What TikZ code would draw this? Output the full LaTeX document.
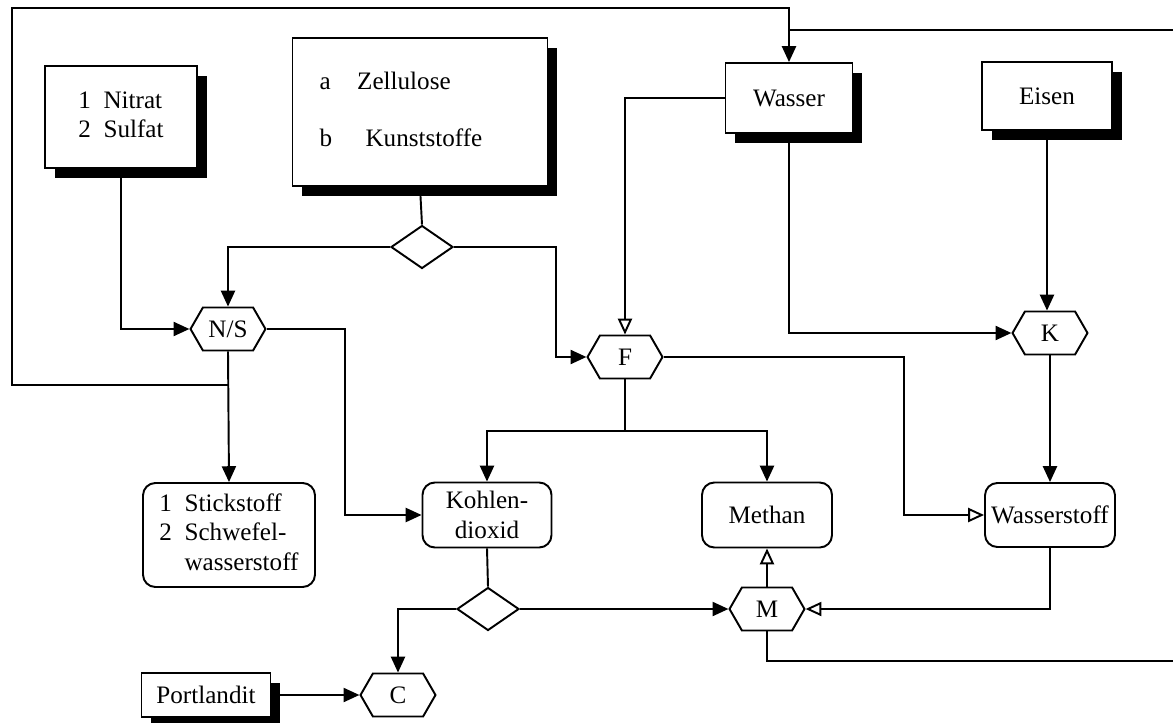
\documentclass[tikz,border=0pt]{standalone}
\usepackage{fontspec}
\setmainfont{Liberation Serif}
\usetikzlibrary{arrows.meta,shapes.geometric,shapes.symbols,shadows}

\begin{document}
\begin{tikzpicture}[x=0.02cm, y=-0.02cm, line width=1.1pt,
  every node/.style={font=\fontsize{14.3}{17}\selectfont},
  stoffbox/.style={rectangle,draw,fill=white,inner sep=0pt,
    drop shadow={shadow xshift=5.6pt,shadow yshift=-5.6pt,fill=black,opacity=1}},
  endbox/.style={rectangle,draw,rounded corners=7pt,fill=white,inner sep=1pt},
  prozess/.style={signal,signal to=east and west,signal pointer angle=120,draw,fill=white,
    minimum height=0.86cm,minimum width=1.5cm,inner sep=0pt},
  weiche/.style={diamond,draw,fill=white,minimum width=1.24cm,minimum height=0.86cm,inner sep=0pt},
  pfeil/.style={-{Triangle[length=9pt,width=8pt]}},
  hohlpfeil/.style={-{Triangle[open,length=9pt,width=8pt]}}]
  \useasboundingbox (0,0) rectangle (1173,723);

  % Ausgangsstoffe
  \node[stoffbox,minimum width=3.04cm,minimum height=2.04cm] (nitrat) at (121,117)
    {\begin{tabular}{@{}l@{\ \ }l@{}}1 & Nitrat\\2 & Sulfat\end{tabular}};
  \node[stoffbox,minimum width=5.1cm,minimum height=2.96cm,text width=4.02cm,inner xsep=0.54cm,align=left] (zell) at (420,112)
    {\begin{tabular}{@{}l@{\ \ \ }l@{}}a & Zellulose\\[5.5mm] b & \ Kunststoffe\end{tabular}};
  \node[stoffbox,minimum width=2.54cm,minimum height=1.4cm] (wasser) at (789,98) {Wasser};
  \node[stoffbox,minimum width=2.6cm,minimum height=1.36cm] (eisen) at (1047,96) {Eisen};
  \node[stoffbox,minimum width=2.58cm,minimum height=0.88cm] (portland) at (206,695) {Portlandit};

  % Prozesse
  \node[prozess] (ns) at (228,329) {N/S};
  \node[prozess] (f) at (625,357) {F};
  \node[prozess] (k) at (1050,333) {K};
  \node[prozess] (m) at (767,609) {M};
  \node[prozess] (c) at (398,695) {C};
  \node[weiche] (d1) at (422,247) {};
  \node[weiche] (d2) at (488,609) {};

  % Produkte
  \node[endbox,minimum width=3.44cm,minimum height=2.08cm] (stick) at (229,535)
    {\begin{tabular}{@{}l@{\ \ }l@{}}1 & Stickstoff\\2 & Schwefel-\\ & wasserstoff\end{tabular}};
  \node[endbox,minimum width=2.58cm,minimum height=1.3cm,align=center] (kd) at (487,515) {Kohlen-\\dioxid};
  \node[endbox,minimum width=2.6cm,minimum height=1.3cm] (methan) at (767,515) {Methan};
  \node[endbox,minimum width=2.6cm,minimum height=1.28cm] (wst) at (1050,515) {Wasserstoff};

  \coordinate (eckeOL) at (12,8);
  \coordinate (randO) at (1173,30);
  \coordinate (randU) at (1173,661);

  % Verbindungen
  \draw[pfeil] (nitrat.south) |- (ns.west);
  \draw (zell.south) -- (d1.north);
  \draw[pfeil] (d1.west) -| (ns.north);
  \draw[pfeil] (d1.east) -- ++(102,0) |- (f.west);
  \draw[hohlpfeil] (wasser.west) -| (f.north);
  \draw[pfeil] (wasser.south) |- (k.west);
  \draw[pfeil] (eisen.south) -- (eisen.south |- k.north);
  \draw[pfeil] (ns.south) -- (stick.north);
  \draw[pfeil] (ns.south) ++(0,34) -| (eckeOL) -| (wasser.north);
  \draw (randO) -- (wasser.north |- randO);
  \draw[pfeil] (ns.east) -- ++(78,0) |- (kd.west);
  \draw (f.south) -- ++(0,52) coordinate (fgabel);
  \draw[pfeil] (fgabel) -| (kd.north);
  \draw[pfeil] (fgabel) -| (methan.north);
  \draw[hohlpfeil] (f.east) -- ++(240,0) |- (wst.west);
  \draw[pfeil] (k.south) -- (wst.north);
  \draw (kd.south) -- (d2.north);
  \draw[pfeil] (d2.east) -- (m.west);
  \draw[pfeil] (d2.west) -| (c.north);
  \draw[pfeil] (portland.east) -- (c.west);
  \draw[hohlpfeil] (m.north) -- (methan.south);
  \draw[hohlpfeil] (wst.south) |- (m.east);
  \draw (m.south) |- (randU);
\end{tikzpicture}
\end{document}
